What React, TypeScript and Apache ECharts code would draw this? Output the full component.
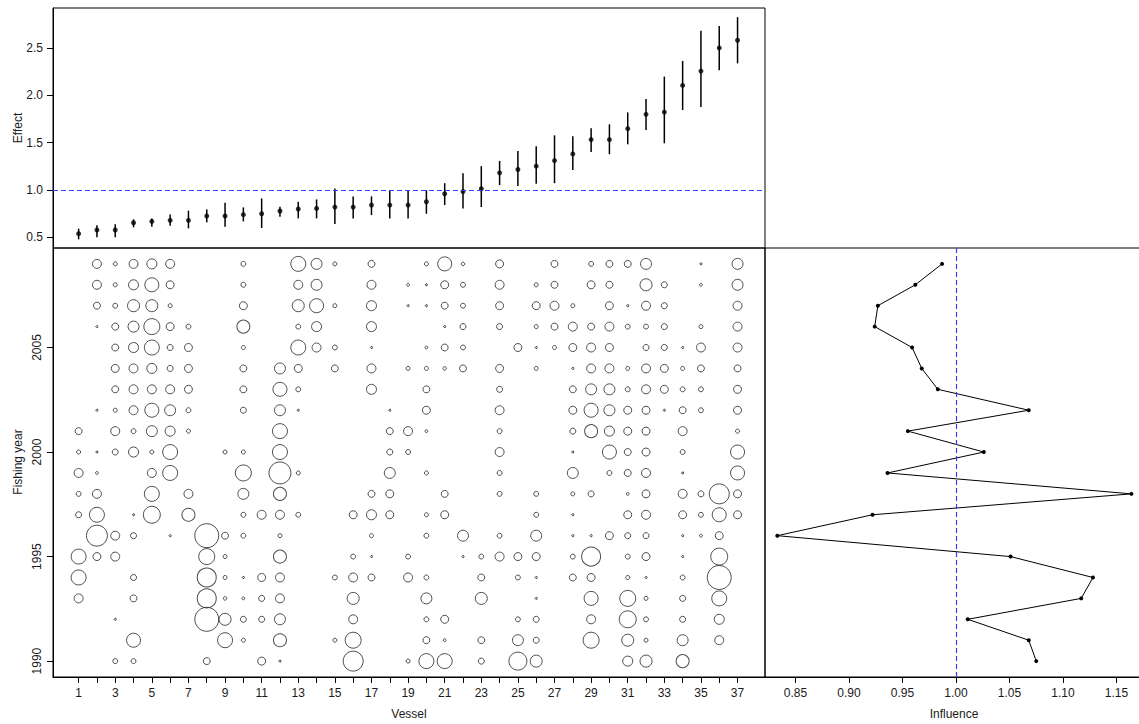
import React, { useEffect, useRef } from "react";
import * as echarts from "echarts";

// ---- Data -------------------------------------------------------------
const vessels = [1, 2, 3, 4, 5, 6, 7, 8, 9, 10, 11, 12, 13, 14, 15, 16, 17, 18, 19, 20, 21, 22, 23, 24, 25, 26, 27, 28, 29, 30, 31, 32, 33, 34, 35, 36, 37];

const effect = [0.535, 0.574, 0.574, 0.651, 0.665, 0.676, 0.676, 0.722, 0.722, 0.736, 0.746, 0.775, 0.796, 0.803, 0.817, 0.817, 0.838, 0.838, 0.838, 0.873, 0.958, 0.982, 1.011, 1.18, 1.215, 1.25, 1.31, 1.38, 1.532, 1.532, 1.648, 1.8, 1.824, 2.106, 2.258, 2.504, 2.585];
const effectLower = [0.475, 0.496, 0.496, 0.602, 0.609, 0.62, 0.592, 0.655, 0.609, 0.665, 0.595, 0.715, 0.697, 0.697, 0.637, 0.697, 0.732, 0.697, 0.697, 0.746, 0.838, 0.803, 0.817, 1.049, 1.039, 1.063, 1.07, 1.211, 1.401, 1.377, 1.482, 1.634, 1.493, 1.845, 1.877, 2.268, 2.34];
const effectUpper = [0.588, 0.623, 0.634, 0.687, 0.697, 0.739, 0.778, 0.792, 0.863, 0.813, 0.908, 0.82, 0.873, 0.898, 1.014, 0.93, 0.93, 0.996, 0.996, 0.996, 1.07, 1.176, 1.25, 1.306, 1.412, 1.461, 1.577, 1.567, 1.652, 1.694, 1.82, 1.962, 2.2, 2.366, 2.687, 2.737, 2.83];

const years = [1990, 1991, 1992, 1993, 1994, 1995, 1996, 1997, 1998, 1999, 2000, 2001, 2002, 2003, 2004, 2005, 2006, 2007, 2008, 2009];

const influence = [1.075, 1.068, 1.011, 1.117, 1.128, 1.051, 0.833, 0.922, 1.164, 0.936, 1.026, 0.955, 1.068, 0.983, 0.968, 0.959, 0.924, 0.927, 0.962, 0.987];

// records per [vessel, count], one list per fishing year (1990 first)
const bubbleRecords: [number, number][][] = [
  [[3, 6], [4, 6], [8, 12], [11, 16], [12, 1], [16, 100], [19, 4], [20, 56], [21, 56], [23, 9], [25, 81], [26, 36], [31, 25], [32, 36], [34, 42]],
  [[4, 49], [9, 56], [10, 4], [12, 42], [15, 4], [16, 64], [20, 12], [21, 2], [23, 12], [25, 30], [26, 9], [29, 64], [31, 36], [32, 4], [34, 30], [36, 20]],
  [[3, 1], [8, 144], [9, 36], [10, 9], [11, 9], [12, 30], [16, 20], [20, 6], [21, 16], [25, 6], [26, 9], [29, 20], [31, 72], [32, 6], [34, 9], [36, 25]],
  [[1, 20], [4, 12], [8, 90], [9, 3], [10, 2], [11, 9], [12, 20], [16, 36], [20, 30], [23, 36], [26, 1], [29, 49], [31, 64], [32, 4], [34, 9], [36, 56]],
  [[1, 56], [4, 9], [8, 90], [9, 4], [10, 1], [11, 16], [12, 20], [15, 6], [16, 20], [17, 12], [19, 20], [20, 6], [23, 12], [25, 6], [26, 1], [28, 12], [29, 16], [31, 4], [32, 1], [34, 6], [36, 144]],
  [[1, 56], [2, 16], [3, 20], [8, 64], [9, 4], [12, 42], [16, 6], [17, 1], [19, 6], [22, 1], [23, 6], [24, 20], [25, 16], [26, 16], [28, 6], [29, 90], [31, 6], [32, 16], [34, 1], [36, 72]],
  [[2, 110], [3, 20], [4, 9], [6, 1], [8, 144], [9, 12], [10, 6], [12, 4], [17, 4], [20, 6], [22, 30], [24, 6], [26, 30], [28, 1], [29, 1], [30, 16], [31, 9], [32, 9], [34, 1], [35, 2], [36, 16]],
  [[1, 9], [2, 56], [4, 1], [5, 72], [7, 42], [10, 6], [11, 20], [12, 20], [13, 6], [16, 16], [17, 25], [18, 16], [20, 4], [21, 16], [26, 6], [28, 1], [31, 16], [32, 20], [34, 16], [35, 6], [36, 49], [37, 16]],
  [[1, 6], [2, 20], [5, 56], [7, 20], [10, 30], [12, 42], [17, 12], [18, 16], [21, 12], [24, 6], [26, 6], [28, 4], [29, 9], [31, 2], [32, 16], [34, 20], [35, 9], [36, 100], [37, 16]],
  [[1, 20], [2, 2], [5, 20], [6, 56], [10, 64], [12, 121], [13, 4], [18, 30], [20, 4], [24, 6], [28, 30], [30, 6], [31, 12], [32, 20], [34, 1], [37, 49]],
  [[1, 4], [2, 1], [3, 9], [4, 25], [5, 4], [6, 56], [9, 4], [10, 4], [12, 56], [18, 9], [19, 6], [24, 20], [28, 1], [30, 49], [31, 12], [32, 16], [34, 6], [37, 49]],
  [[1, 12], [3, 20], [4, 6], [5, 30], [6, 25], [7, 4], [12, 56], [18, 12], [19, 20], [20, 2], [24, 6], [28, 9], [29, 42], [30, 25], [31, 16], [32, 16], [34, 20], [37, 4]],
  [[2, 1], [3, 4], [4, 20], [5, 49], [6, 30], [7, 6], [10, 9], [12, 30], [13, 1], [18, 1], [20, 16], [24, 20], [28, 16], [29, 49], [30, 30], [31, 16], [32, 16], [33, 1], [34, 12], [35, 6], [37, 16]],
  [[3, 12], [4, 20], [5, 20], [6, 20], [7, 16], [10, 12], [12, 49], [13, 6], [17, 25], [20, 12], [24, 9], [28, 12], [29, 30], [30, 30], [31, 6], [32, 20], [33, 16], [34, 6], [35, 6], [37, 16]],
  [[3, 16], [4, 20], [5, 25], [6, 9], [7, 16], [10, 12], [12, 30], [13, 16], [15, 12], [17, 20], [19, 4], [20, 4], [21, 3], [22, 12], [24, 16], [26, 4], [28, 1], [29, 20], [30, 20], [31, 4], [32, 20], [33, 16], [34, 4], [35, 12], [37, 12]],
  [[3, 12], [4, 25], [5, 56], [6, 9], [7, 16], [10, 4], [13, 56], [14, 20], [15, 6], [17, 1], [20, 2], [21, 12], [22, 6], [25, 16], [26, 1], [27, 4], [28, 16], [29, 20], [30, 16], [32, 9], [33, 9], [34, 1], [35, 20], [37, 20]],
  [[2, 1], [3, 12], [4, 30], [5, 64], [6, 16], [7, 6], [10, 42], [13, 6], [14, 25], [17, 25], [21, 1], [22, 9], [24, 9], [26, 4], [27, 12], [28, 20], [29, 12], [30, 20], [31, 6], [32, 6], [33, 9], [35, 4], [37, 20]],
  [[2, 12], [3, 6], [4, 36], [5, 36], [6, 4], [10, 16], [13, 36], [14, 49], [15, 4], [17, 25], [19, 1], [20, 1], [21, 12], [22, 6], [24, 16], [26, 16], [27, 20], [28, 4], [30, 16], [31, 1], [32, 20], [33, 9], [37, 20]],
  [[2, 20], [3, 4], [4, 25], [5, 49], [6, 16], [10, 6], [13, 20], [14, 30], [17, 20], [19, 2], [20, 1], [21, 16], [22, 6], [24, 20], [26, 4], [27, 12], [29, 16], [30, 12], [32, 36], [33, 9], [35, 2], [37, 30]],
  [[2, 20], [3, 4], [4, 20], [5, 25], [6, 20], [10, 6], [13, 56], [14, 30], [15, 4], [17, 12], [20, 4], [21, 49], [22, 3], [24, 16], [27, 12], [29, 6], [30, 12], [31, 12], [32, 30], [35, 1], [37, 30]],
];

const effectTicks = [0.5, 1.0, 1.5, 2.0, 2.5];
const yearTicks = [1990, 1995, 2000, 2005];
const vesselLabels = [1, 3, 5, 7, 9, 11, 13, 15, 17, 19, 21, 23, 25, 27, 29, 31, 33, 35, 37];
const influenceTicks = [0.85, 0.9, 0.95, 1.0, 1.05, 1.1, 1.15];

// ---- Chart ------------------------------------------------------------
const FONT = "Liberation Sans, Arial, sans-serif";
const TXT = "#1a1a1a";
const BLUE = "#3b3bff";

export default function App() {
  const ref = useRef<HTMLDivElement>(null);
  useEffect(() => {
    if (!ref.current) return;
    const chart = echarts.init(ref.current, undefined, { renderer: "svg" });

    const bubbleData: number[][] = [];
    bubbleRecords.forEach((row, yi) => {
      row.forEach(([v, n]) => bubbleData.push([v, years[yi], n]));
    });

    const labelStyle = { color: TXT, fontFamily: FONT, fontSize: 12 };
    const tickStyle = { color: "#000", width: 1 };

    chart.setOption({
      animation: false,
      backgroundColor: "#fff",
      grid: [
        { left: 53, top: 8, width: 712, height: 240, show: true, borderColor: "#000", borderWidth: 1, backgroundColor: "transparent", outerBoundsMode: "none" },
        { left: 53, top: 248, width: 712, height: 429, show: true, borderColor: "#000", borderWidth: 1, backgroundColor: "transparent", outerBoundsMode: "none" },
        { left: 765, top: 248, width: 380, height: 429, show: true, borderColor: "#000", borderWidth: 1, backgroundColor: "transparent", outerBoundsMode: "none" },
      ],
      xAxis: [
        { type: "value", gridIndex: 0, min: -0.4, max: 38.5, show: false },
        {
          type: "value", gridIndex: 1, min: -0.4, max: 38.5,
          axisLine: { show: true, onZero: false, lineStyle: tickStyle },
          axisTick: { show: true, customValues: vessels, length: 6, lineStyle: tickStyle },
          axisLabel: { show: true, customValues: vesselLabels, margin: 10, formatter: (v: number) => String(v), ...labelStyle },
          splitLine: { show: false },
        },
        {
          type: "value", gridIndex: 2, min: 0.8215, max: 0.8215 + 380 / 1070,
          axisLine: { show: true, onZero: false, lineStyle: tickStyle },
          axisTick: { show: true, customValues: influenceTicks, length: 6, lineStyle: tickStyle },
          axisLabel: { show: true, customValues: influenceTicks, margin: 10, formatter: (v: number) => v.toFixed(2), ...labelStyle },
          splitLine: { show: false },
        },
      ],
      yAxis: [
        {
          type: "value", gridIndex: 0, min: 0.383, max: 2.927,
          axisLine: { show: true, onZero: false, lineStyle: tickStyle },
          axisTick: { show: true, customValues: effectTicks, length: 6, lineStyle: tickStyle },
          axisLabel: { show: true, customValues: effectTicks, margin: 10, formatter: (v: number) => v.toFixed(1), ...labelStyle },
          splitLine: { show: false },
        },
        {
          type: "value", gridIndex: 1, min: 1989.24, max: 2009.76,
          axisLine: { show: true, onZero: false, lineStyle: tickStyle },
          axisTick: { show: true, customValues: yearTicks, length: 6, lineStyle: tickStyle },
          axisLabel: { show: true, customValues: yearTicks, margin: 10, rotate: 90, formatter: (v: number) => String(Math.round(v)), ...labelStyle },
          splitLine: { show: false },
        },
        { type: "value", gridIndex: 2, min: 1989.24, max: 2009.76, show: false },
      ],
      series: [
        {
          type: "custom",
          xAxisIndex: 0,
          yAxisIndex: 0,
          encode: { x: 0, y: [1, 2] },
          data: vessels.map((v, i) => [v, effectLower[i], effectUpper[i]]),
          renderItem: (params: any, api: any) => {
            const x = api.value(0);
            const lo = api.coord([x, api.value(1)]);
            const hi = api.coord([x, api.value(2)]);
            return {
              type: "line",
              shape: { x1: lo[0], y1: lo[1], x2: hi[0], y2: hi[1] },
              style: { stroke: "#000", lineWidth: 1.5 },
            };
          },
          silent: true,
        },
        {
          type: "scatter",
          xAxisIndex: 0,
          yAxisIndex: 0,
          data: vessels.map((v, i) => [v, effect[i]]),
          symbol: "circle",
          symbolSize: 5,
          itemStyle: { color: "#000" },
          silent: true,
          markLine: {
            silent: true,
            symbol: ["none", "none"],
            label: { show: false },
            lineStyle: { color: BLUE, type: [5, 3], width: 1.2 },
            data: [{ yAxis: 1 }],
          },
        },
        {
          type: "scatter",
          xAxisIndex: 1,
          yAxisIndex: 1,
          data: bubbleData,
          symbol: "circle",
          symbolSize: (d: number[]) => 2 * Math.sqrt(d[2]),
          itemStyle: { color: "rgba(0,0,0,0)", borderColor: "#222", borderWidth: 1 },
          silent: true,
        },
        {
          type: "line",
          xAxisIndex: 2,
          yAxisIndex: 2,
          data: years.map((y, i) => [influence[i], y]),
          symbol: "circle",
          symbolSize: 4,
          showSymbol: true,
          lineStyle: { color: "#000", width: 1 },
          itemStyle: { color: "#000" },
          silent: true,
          markLine: {
            silent: true,
            symbol: ["none", "none"],
            label: { show: false },
            lineStyle: { color: BLUE, type: [5, 3], width: 1.2 },
            data: [{ xAxis: 1 }],
          },
        },
      ],
      graphic: [
        { type: "text", x: 18, y: 128, rotation: Math.PI / 2, style: { text: "Effect", align: "center", verticalAlign: "middle", fill: TXT, font: `12px ${FONT}` } },
        { type: "text", x: 18, y: 462, rotation: Math.PI / 2, style: { text: "Fishing year", align: "center", verticalAlign: "middle", fill: TXT, font: `12px ${FONT}` } },
        { type: "text", x: 409, y: 714, style: { text: "Vessel", align: "center", verticalAlign: "middle", fill: TXT, font: `12px ${FONT}` } },
        { type: "text", x: 954, y: 714, style: { text: "Influence", align: "center", verticalAlign: "middle", fill: TXT, font: `12px ${FONT}` } },
      ],
    });

    return () => chart.dispose();
  }, []);

  return <div ref={ref} style={{ position: "absolute", left: 0, top: 0, width: 1139, height: 724 }} />;
}
